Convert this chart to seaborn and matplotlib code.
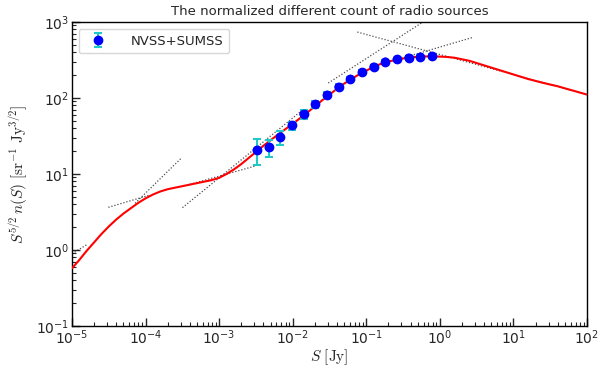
import numpy as np
import pandas as pd
import matplotlib
matplotlib.use("Agg")
import matplotlib.pyplot as plt
import seaborn as sns

# ---- data ----
# data points: log10 S [Jy] and S^{5/2} n(S)
pt_logS = [-2.487, -2.324, -2.170, -2.011, -1.853, -1.694, -1.535, -1.377,
           -1.218, -1.059, -0.901, -0.741, -0.584, -0.426, -0.265, -0.106]
pt_val = [20.7, 22.4, 31.0, 43.7, 61.5, 82.6, 110.0, 140.0,
          178.0, 218.0, 258.0, 301.0, 323.0, 339.0, 349.0, 357.0]
pt_lo = [13.1, 16.6, 24.3, 37.9, 53.5, 74.0, 100.0, 129.0,
         165.0, 204.0, 243.0, 285.0, 306.0, 322.0, 332.0, 340.0]
pt_hi = [28.6, 28.0, 37.0, 48.7, 69.5, 91.0, 120.0, 151.0,
         191.0, 232.0, 273.0, 317.0, 340.0, 356.0, 366.0, 374.0]

# model curve: log10 S and log10 of S^{5/2} n(S)
model_logS = [-5.0, -4.9, -4.8, -4.7, -4.6, -4.5, -4.4, -4.3, -4.2, -4.1,
              -4.0, -3.9, -3.8, -3.7, -3.6, -3.5, -3.4, -3.3, -3.2, -3.1,
              -3.0, -2.9, -2.8, -2.7, -2.6, -2.5, -2.4, -2.3, -2.2, -2.1,
              -2.0, -1.8, -1.6, -1.4, -1.3, -1.2, -1.1, -1.0, -0.9, -0.8,
              -0.7, -0.6, -0.5, -0.4, -0.3, -0.2, -0.1, 0.0, 0.1, 0.2,
              0.3, 0.4, 0.5, 0.6, 0.8, 1.0, 1.2, 1.4, 1.6, 1.8, 2.0]
model_logY = [-0.24, -0.13, -0.01, 0.10, 0.21, 0.31, 0.40, 0.48, 0.55, 0.62,
              0.68, 0.73, 0.77, 0.80, 0.82, 0.84, 0.86, 0.88, 0.90, 0.92,
              0.95, 1.00, 1.06, 1.13, 1.21, 1.29, 1.37, 1.445, 1.52, 1.59,
              1.66, 1.81, 1.97, 2.12, 2.19, 2.25, 2.31, 2.36, 2.41, 2.45,
              2.48, 2.50, 2.52, 2.535, 2.543, 2.547, 2.548, 2.545, 2.54, 2.53,
              2.51, 2.49, 2.46, 2.43, 2.37, 2.31, 2.25, 2.20, 2.155, 2.10, 2.045]

# power-law tangent segments: (logS0, logY0) -> (logS1, logY1)
tan_x0 = [-5.00, -4.506, -4.143, -3.499, -3.395, -1.517, -1.122, -0.60]
tan_y0 = [-0.05, 0.562, 0.614, 0.557, 0.865, 2.197, 2.868, 2.50]
tan_x1 = [-4.80, -3.939, -3.517, -1.900, -2.510, -0.150, 1.776, 0.452]
tan_y1 = [0.07, 0.724, 1.207, 1.816, 1.105, 3.05, 2.105, 2.799]

title = "The normalized different count of radio sources"
legend_label = "NVSS+SUMSS"

# ---- style ----
sns.set_style("ticks")
plt.rcParams["mathtext.fontset"] = "cm"
plt.rcParams["font.family"] = ["DejaVu Sans"]

fig = plt.figure(figsize=(5.98, 3.67), dpi=100)
ax = fig.add_axes([0.1204, 0.1117, 0.8612, 0.8283])

# model curve
df_model = pd.DataFrame({"S": 10 ** np.array(model_logS),
                         "y": 10 ** np.array(model_logY)})
sns.lineplot(data=df_model, x="S", y="y", ax=ax, color="red", lw=1.5,
             sort=False, zorder=3)

# tangent lines
for a, b, c, d in zip(tan_x0, tan_y0, tan_x1, tan_y1):
    ax.plot([10 ** a, 10 ** c], [10 ** b, 10 ** d], ls=(0, (1, 1.5)),
            color="k", lw=0.9, alpha=0.7, zorder=2)

# data points with errors
S = 10 ** np.array(pt_logS)
v = np.array(pt_val)
yerr = [v - np.array(pt_lo), np.array(pt_hi) - v]
ax.errorbar(S, v, yerr=yerr, fmt="o", color="blue", ms=6,
            ecolor="#20c8c8", elinewidth=1.5, capsize=3, capthick=1.5,
            label=legend_label, zorder=4)
df_pts = pd.DataFrame({"S": S, "y": v})
sns.scatterplot(data=df_pts, x="S", y="y", ax=ax, color="blue", s=36,
                edgecolor="none", zorder=5, legend=False)

ax.set_xscale("log")
ax.set_yscale("log")
ax.set_xlim(1e-5, 1e2)
ax.set_ylim(1e-1, 1e3)
ax.set_xlabel(r"$S\ [\mathrm{Jy}]$", fontsize=11, labelpad=0)
ax.set_ylabel(r"$S^{5/2}\,n(S)\ [\mathrm{sr}^{-1}\ \mathrm{Jy}^{3/2}]$",
              fontsize=11, labelpad=4)
ax.set_title(title, fontsize=9.5, pad=5)

ax.tick_params(which="both", direction="in", top=False, right=False,
               labelsize=10, pad=2)
ax.tick_params(which="major", length=6, width=1)
ax.tick_params(which="minor", length=3, width=0.8)
for s in ax.spines.values():
    s.set_linewidth(1.0)
    s.set_color("black")

ax.legend(loc="upper left", fontsize=9.5, frameon=True, borderpad=0.45,
          handletextpad=1.5)

fig.savefig("out.png", dpi=100)
